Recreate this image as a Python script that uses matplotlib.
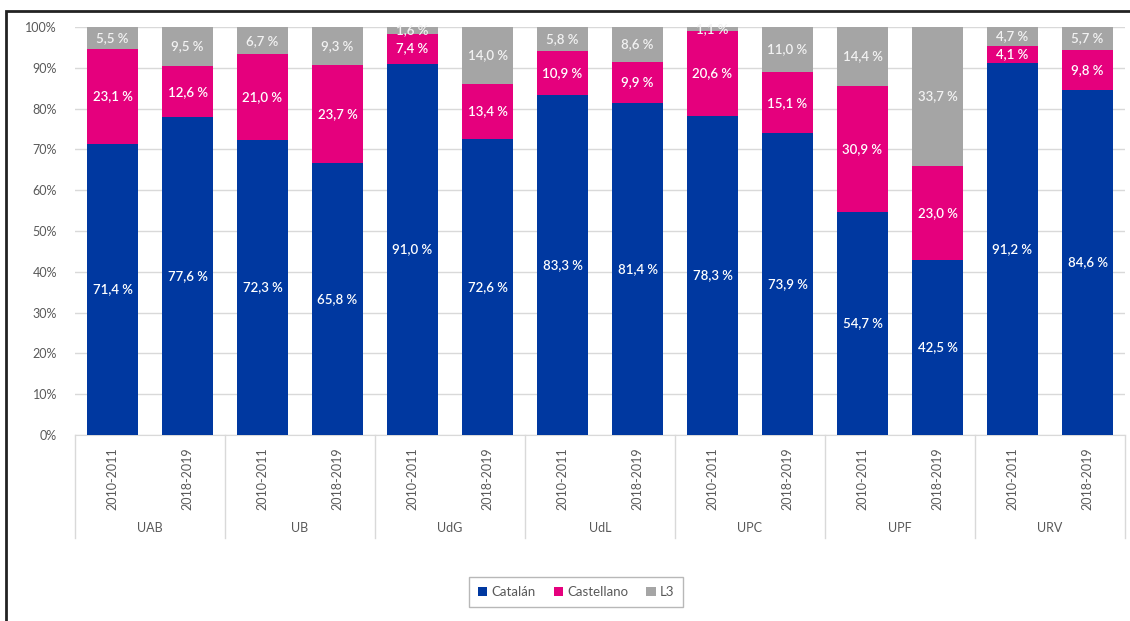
import matplotlib
matplotlib.use("Agg")
from matplotlib import pyplot as plt
from matplotlib.patches import Rectangle, Patch
from matplotlib.lines import Line2D
import numpy as np

universities = ["UAB", "UB", "UdG", "UdL", "UPC", "UPF", "URV"]
years = ["2010-2011", "2018-2019"]

# one value per bar: (uni, year) in order
catalan = [71.4, 77.6, 72.3, 65.8, 91.0, 72.6, 83.3, 81.4, 78.3, 73.9, 54.7, 42.5, 91.2, 84.6]
castellano = [23.1, 12.6, 21.0, 23.7, 7.4, 13.4, 10.9, 9.9, 20.6, 15.1, 30.9, 23.0, 4.1, 9.8]
l3 = [5.5, 9.5, 6.7, 9.3, 1.6, 14.0, 5.8, 8.6, 1.1, 11.0, 14.4, 33.7, 4.7, 5.7]

series_names = ["Catalán", "Castellano", "L3"]
colors = ["#0038A0", "#E5007D", "#A5A5A5"]

plt.rcParams["font.family"] = ["Lato", "DejaVu Sans"]

fig = plt.figure(figsize=(11.3, 6.21), dpi=100)
ax = fig.add_axes([75 / 1130, (621 - 435) / 621, 1050 / 1130, 408 / 621])

x = np.arange(len(catalan))
width = 0.68
# 100% stacked: each bar scaled to its own total
totals = np.array(catalan) + np.array(castellano) + np.array(l3)
bottom = np.zeros(len(x))
for vals, name, col in zip([catalan, castellano, l3], series_names, colors):
    vals = np.array(vals)
    share = vals / totals * 100
    ax.bar(x, share, width, bottom=bottom, color=col, label=name, zorder=3)
    txt_col = "white" if name != "L3" else "#F2F2F2"
    for xi, b, s, v in zip(x, bottom, share, vals):
        ax.text(xi, b + s / 2, f"{v:.1f} %".replace(".", ","), ha="center", va="center",
                color=txt_col, fontsize=9.5, fontweight="semibold", zorder=4)
    bottom = bottom + share

ax.set_xlim(-0.5, len(x) - 0.5)
ax.set_ylim(0, 100)
ax.set_yticks(range(0, 101, 10))
ax.set_yticklabels([f"{t}%" for t in range(0, 101, 10)])
ax.yaxis.grid(True, color="#D9D9D9", linewidth=1, zorder=0)
for s in ["top", "right", "left"]:
    ax.spines[s].set_visible(False)
ax.spines["bottom"].set_color("#D9D9D9")
ax.tick_params(axis="y", length=0, pad=13, labelsize=9, labelcolor="#595959")

ax.set_xticks(x)
ax.set_xticklabels(years * len(universities), rotation=90, fontsize=9, color="#595959")
ax.tick_params(axis="x", length=0, pad=9)

# grouped category axis
trans = ax.get_xaxis_transform()
for i in range(len(universities) + 1):
    ax.add_line(Line2D([2 * i - 0.5, 2 * i - 0.5], [0, -0.2525], transform=trans,
                       color="#D9D9D9", linewidth=1, clip_on=False))
for i, u in enumerate(universities):
    ax.text(2 * i + 0.5, -0.228, u, transform=trans, ha="center", va="center",
            fontsize=9, color="#595959")

handles = [Patch(facecolor=c, label=n) for c, n in zip(colors, series_names)]
leg = fig.legend(handles=handles, loc="center", bbox_to_anchor=(576 / 1130, 1 - 592 / 621),
                 ncol=3, frameon=True, fancybox=False, fontsize=9.5, handlelength=0.7,
                 handleheight=0.7, handletextpad=0.3, columnspacing=1.4, edgecolor="#A6A6A6",
                 borderpad=0.7)
leg.get_frame().set_linewidth(1)
for t in leg.get_texts():
    t.set_color("#595959")

# outer border
fig.patches.append(Rectangle((6 / 1130, -0.02), 1.05, 1 - 11 / 621 + 0.02, transform=fig.transFigure,
                             fill=False, edgecolor="#222222", linewidth=2))

fig.savefig("out.png", dpi=100)
